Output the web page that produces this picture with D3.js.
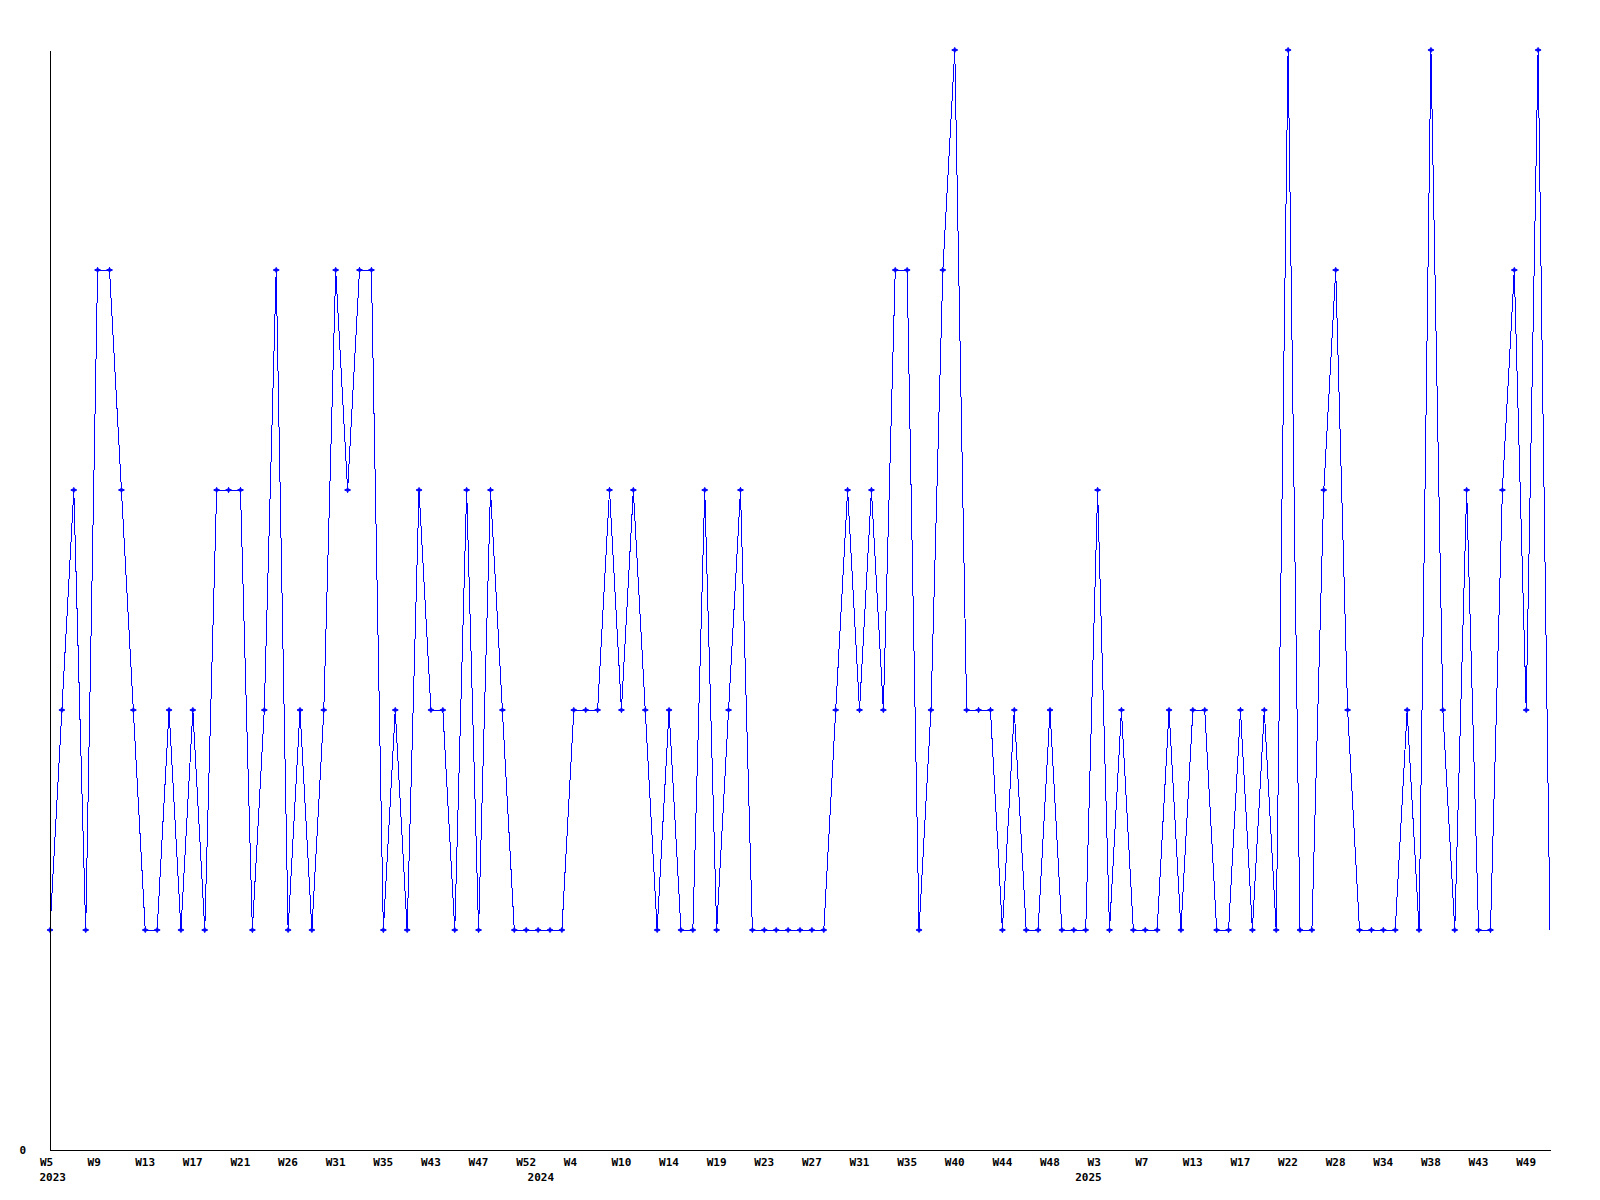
<!DOCTYPE html>
<html>
<head>
<meta charset="utf-8">
<script src="https://cdn.jsdelivr.net/npm/d3@7"></script>
<style>
  html, body { margin: 0; padding: 0; background: #ffffff; }
  svg { display: block; }
  .lbl { font-family: "DejaVu Sans Mono", "Liberation Mono", monospace; font-weight: bold; font-size: 11px; fill: #000; }
</style>
</head>
<body>
<svg id="chart" width="1600" height="1200"></svg>
<script>
// weekly values, one per data point (127 points)
const values = [
  1,2,3,1,4,4,3,2,1,1, 2,1,2,1,3,3,3,1,2,4,
  1,2,1,2,4,3,4,4,1,2, 1,3,2,2,1,3,1,3,2,1,
  1,1,1,1,2,2,2,3,2,3, 2,1,2,1,1,3,1,2,3,1,
  1,1,1,1,1,1,2,3,2,3, 2,4,4,1,2,4,5,2,2,2,
  1,2,1,1,2,1,1,1,3,1, 2,1,1,1,2,1,2,2,1,1,
  2,1,2,1,5,1,1,3,4,2, 1,1,1,1,2,1,5,2,1,3,
  1,1,3,4,2,5,1
];
// week labels shown every 4th point
const tickWeeks = ["W5","W9","W13","W17","W21","W26","W31","W35","W43","W47","W52",
  "W4","W10","W14","W19","W23","W27","W31","W35","W40","W44","W48",
  "W3","W7","W13","W17","W22","W28","W34","W38","W43","W49"];
// first data point of each year
const yearStartIndex = [0, 41, 87];
const yearNames = ["2023", "2024", "2025"];
const yTicks = [0];

const svg = d3.select("#chart");
const idx = d3.range(values.length);

const x = d3.scalePoint().domain(idx).range([50, 1550]).padding(0);
const y = d3.scaleLinear().domain([0, 5]).range([1150, 50]);

// line
svg.append("path")
  .datum(values)
  .attr("fill", "none")
  .attr("stroke", "#0000ff")
  .attr("stroke-width", 1)
  .attr("shape-rendering", "crispEdges")
  .attr("d", d3.line().x((d, i) => x(i)).y(d => y(d)));

// markers (last point has none)
const marks = svg.append("g").attr("fill", "#0000ff").attr("stroke", "#0000ff");
marks.selectAll("path")
  .data(values.slice(0, values.length - 1))
  .join("path")
  .attr("stroke-width", 1)
  .attr("d", (d, i) => {
    const px = x(i), py = y(d);
    return `M${px - 3},${py}L${px},${py - 1.5}L${px + 3},${py}L${px},${py + 1.5}Z M${px},${py - 3}V${py + 3}`;
  });

// x axis
const tickIdx = tickWeeks.map((w, k) => k * 4);
const xAxis = svg.append("g")
  .attr("transform", "translate(0,1150)")
  .call(d3.axisBottom(x).tickValues(tickIdx)
    .tickFormat(i => tickWeeks[i / 4]).tickSize(0).tickSizeOuter(0));
xAxis.select(".domain").attr("stroke", "#000").attr("stroke-width", 1).attr("shape-rendering", "crispEdges");
xAxis.selectAll(".tick text")
  .attr("class", "lbl")
  .attr("text-anchor", "start")
  .attr("x", -10.5)
  .attr("y", 16)
  .attr("dy", 0);
xAxis.attr("font-family", null).attr("font-size", null);

// year labels
svg.append("g").selectAll("text")
  .data(yearStartIndex)
  .join("text")
  .attr("class", "lbl")
  .attr("x", d => x(d) - 10.5)
  .attr("y", 1181)
  .text((d, k) => yearNames[k]);

// y axis
const yAxis = svg.append("g")
  .attr("transform", "translate(50,0)")
  .call(d3.axisLeft(y).tickValues(yTicks).tickFormat(d3.format("d")).tickSize(0).tickSizeOuter(0).tickPadding(24));
yAxis.select(".domain").attr("stroke", "#000").attr("stroke-width", 1).attr("shape-rendering", "crispEdges");
yAxis.attr("font-family", null).attr("font-size", null);
yAxis.selectAll(".tick text").attr("class", "lbl").attr("dy", "0.32em");
</script>
</body>
</html>
